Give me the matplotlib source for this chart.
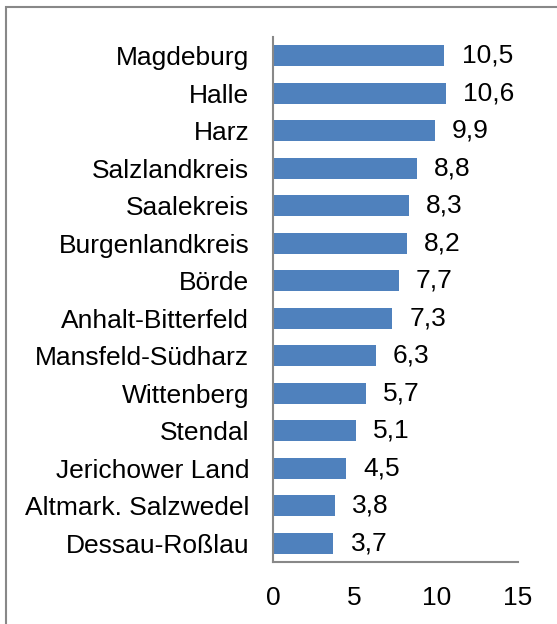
import matplotlib.pyplot as plt
from matplotlib.patches import Rectangle

kreise = ["Magdeburg", "Halle", "Harz", "Salzlandkreis", "Saalekreis",
          "Burgenlandkreis", "Börde", "Anhalt-Bitterfeld", "Mansfeld-Südharz",
          "Wittenberg", "Stendal", "Jerichower Land", "Altmark. Salzwedel",
          "Dessau-Roßlau"]
werte = [10.5, 10.6, 9.9, 8.8, 8.3, 8.2, 7.7, 7.3, 6.3, 5.7, 5.1, 4.5, 3.8, 3.7]
xticks = [0, 5, 10, 15]

plt.rcParams['font.family'] = ['Liberation Sans', 'DejaVu Sans']

fig = plt.figure(figsize=(5.57, 6.24), dpi=100)
ax = fig.add_axes([0.490, 0.0994, 0.440, 0.8413])

pos = list(range(len(kreise)))[::-1]
ax.barh(pos, werte, height=0.56, color='#4F81BD')
for y, v in zip(pos, werte):
    ax.text(v + 1.05, y, f"{v:.1f}".replace('.', ','), va='center', ha='left',
            fontsize=19)

ax.set_xlim(0, 15)
ax.set_ylim(-0.5, len(kreise) - 0.5)
ax.set_yticks(pos)
ax.set_yticklabels(kreise, fontsize=19)
ax.set_xticks(xticks)
ax.set_xticklabels([str(t) for t in xticks], fontsize=19)
ax.tick_params(axis='both', length=0)
ax.tick_params(axis='y', pad=17)
ax.tick_params(axis='x', pad=17)

for s in ['top', 'right']:
    ax.spines[s].set_visible(False)
for s in ['left', 'bottom']:
    ax.spines[s].set_color('#888888')
    ax.spines[s].set_linewidth(1.5)

# Rahmen um das ganze Diagramm
fig.patches.append(Rectangle((6 / 557, -0.05), 1.1, 1 - 7 / 624 + 0.05,
                             transform=fig.transFigure, fill=False,
                             edgecolor='#888888', linewidth=1.5))

fig.savefig('out.png', dpi=100)
